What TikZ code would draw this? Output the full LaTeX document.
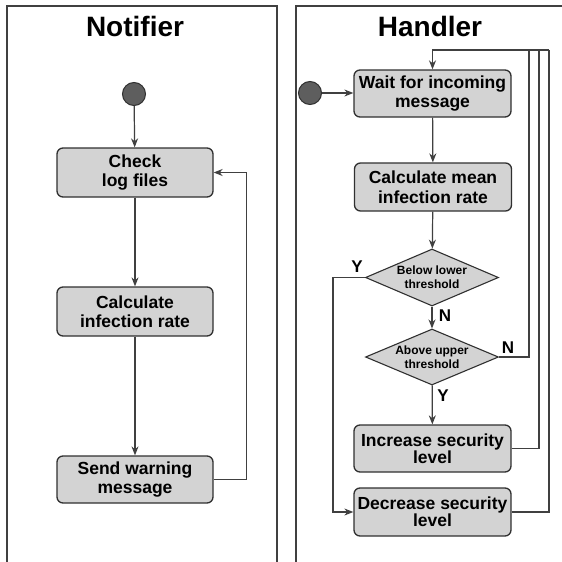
\documentclass[tikz,border=0pt]{standalone}
\usepackage{fontspec}
\setmainfont{Liberation Sans}
\usetikzlibrary{arrows.meta,shapes.geometric}
\definecolor{boxfill}{HTML}{D3D3D3}
\definecolor{boxline}{HTML}{303030}
\definecolor{conn}{HTML}{404040}
\definecolor{dot}{HTML}{5E5E5E}
\begin{document}
\begin{tikzpicture}[x=1pt,y=-1pt,
  actbox/.style={draw=boxline,fill=boxfill,line width=1.3pt,rounded corners=6pt,
    inner sep=0pt,minimum width=156pt,align=center,
    font=\fontsize{17.5}{19.5}\selectfont\bfseries},
  tightbox/.style={actbox,font=\fontsize{17.5}{15}\selectfont\bfseries},
  decision/.style={diamond,draw=boxline,fill=boxfill,line width=1.1pt,inner sep=0pt,
    aspect=2.33,minimum width=133pt,minimum height=57pt,align=center,
    font=\fontsize{12}{14}\selectfont\bfseries},
  startdot/.style={circle,draw=boxline,fill=dot,line width=1pt,minimum size=23pt,inner sep=0pt},
  arr/.style={draw=conn,line width=1.2pt,-{Stealth[length=9pt,width=7pt]}},
  ln/.style={draw=conn,line width=1.2pt},
  lbl/.style={font=\fontsize{17}{17}\selectfont\bfseries,inner sep=0pt},
  title/.style={font=\fontsize{28}{28}\selectfont\bfseries,inner sep=0pt},
  panel/.style={draw=conn,line width=1.8pt}]
\useasboundingbox (0,0) rectangle (562,562);
\clip (0,0) rectangle (562,562);
\fill[white] (0,0) rectangle (562,562);

% panels
\draw[panel] (7,575) -- (7,6) -- (277,6) -- (277,575);
\draw[panel] (296,575) -- (296,6) -- (575,6);
\node[title] (tn) at (135,26) {Notifier};
\node[title] (th) at (430,26) {Handler};

% Notifier
\node[startdot] (nstart) at (134,94) {};
\node[actbox,minimum height=49pt] (check) at (135,172.5) {Check\\log files};
\node[actbox,minimum height=49pt] (calc) at (135,311.5) {Calculate\\infection rate};
\node[actbox,minimum height=47pt] (send) at (135,479.5) {Send warning\\message};
\draw[arr] (nstart) -- (check);
\draw[arr] (calc.north |- check.south) -- (calc);
\draw[arr] (send.north |- calc.south) -- (send);
\draw[arr] (send.east) -- ++(33,0) |- (check.east);

% Handler
\node[startdot] (hstart) at (310,93) {};
\node[actbox,minimum width=157pt,minimum height=47pt] (wait) at (432.5,93.5) {Wait for incoming\\message};
\node[actbox,minimum width=157pt,minimum height=48pt] (mean) at (433,187) {Calculate mean\\infection rate};
\node[decision] (d1) at (432,277.5) {Below lower\\threshold};
\node[decision,minimum height=56pt] (d2) at (432,357) {Above upper\\threshold};
\node[tightbox,minimum width=157pt,minimum height=47pt] (inc) at (432.5,448.5) {Increase security\\level};
\node[tightbox,minimum width=157pt,minimum height=48pt] (dec) at (432.5,512) {Decrease security\\level};

\coordinate (top) at (549,50);
\coordinate (r1) at (529,50);
\coordinate (r2) at (539,50);

\draw[arr] (hstart) -- (hstart -| wait.west);
\draw[arr] (wait) -- (mean);
\draw[arr] (mean) -- (d1);
\draw[arr] (d1) -- (d2);
\draw[arr] (d2) -- (inc);
\draw[arr] (d1.west) -- ++(-32,0) |- (dec.west);
\draw[ln] (d2.east) -| (r1);
\draw[ln] (inc.east) -| (r2);
\draw[ln] (dec.east) -| (top);
\draw[arr] (top) -| (wait.north);

\node[lbl] (ly1) at (357,267) {Y};
\node[lbl] (ln1) at (445,316) {N};
\node[lbl] (ln2) at (508,348) {N};
\node[lbl] (ly2) at (443,396) {Y};
\end{tikzpicture}
\end{document}
